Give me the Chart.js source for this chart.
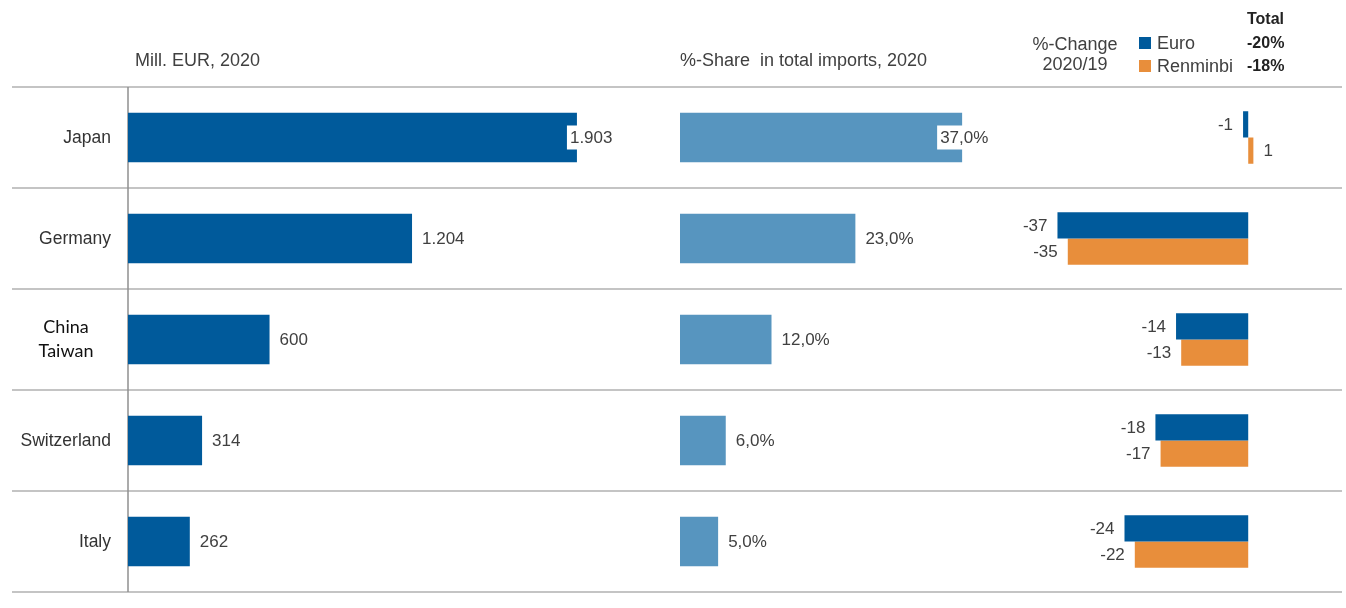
<!DOCTYPE html>
<html>
<head>
<meta charset="utf-8">
<script src="https://cdn.jsdelivr.net/npm/chart.js"></script>
<style>
  body { margin: 0; background: #fff; }
  #wrap { position: relative; width: 1346px; height: 608px; font-family: "Liberation Sans", Arial, sans-serif; color: #404040; }
  #wrap canvas { position: absolute; left: 0; top: 0; }
  .t { position: absolute; white-space: nowrap; font-size: 18px; line-height: 20px; }
  .c { text-align: center; }
  .b { font-weight: bold; font-size: 16px; color: #222; }
  .sq { position: absolute; width: 12px; height: 12px; }
</style>
</head>
<body>
<div id="wrap">
  <canvas id="chartEur" width="1346" height="608"></canvas>
  <canvas id="chartShare" width="1346" height="608"></canvas>
  <canvas id="chartChange" width="1346" height="608"></canvas>

  <div class="t" style="left:135px; top:50px;">Mill. EUR, 2020</div>
  <div class="t" style="left:680px; top:50px;">%-Share&nbsp; in total imports, 2020</div>
  <div class="t c" style="left:1020px; width:110px; top:34px;">%-Change</div>
  <div class="t c" style="left:1020px; width:110px; top:54px;">2020/19</div>
  <div id="legend"></div>
</div>

<script>
// values
const countries = ['Japan', 'Germany', ['China', 'Taiwan'], 'Switzerland', 'Italy'];
const importsMillEur = [1903, 1204, 600, 314, 262];
const sharePct = [37, 23, 12, 6, 5];
const changeEuro = [-1, -37, -14, -18, -24];
const changeRenminbi = [1, -35, -13, -17, -22];
const seriesNames = ['Euro', 'Renminbi'];
const totalChange = [-20, -18];

const DARK_BLUE = '#005a9b';
const LIGHT_BLUE = '#5795bf';
const ORANGE = '#e88e3b';
const FONT = '"Liberation Sans", Arial, sans-serif';

// 1903 -> 1.903
function fmtThousands(v) {
    if (Math.abs(v) < 1000) return String(v);
    return Math.floor(v / 1000) + '.' + String(v % 1000).padStart(3, '0');
}
function fmtPct(v) {
    return v.toFixed(1).replace('.', ',') + '%';
}

// labels at the end of each bar
function valueLabels(fmt, overlap) {
    return {
        id: 'valueLabels',
        afterDatasetsDraw(chart) {
            const ctx = chart.ctx;
            ctx.save();
            ctx.font = '17px ' + FONT;
            ctx.textBaseline = 'middle';
            chart.data.datasets.forEach((ds, di) => {
                const meta = chart.getDatasetMeta(di);
                const maxV = Math.max(...ds.data);
                meta.data.forEach((bar, i) => {
                    const v = ds.data[i];
                    const txt = fmt(v);
                    const w = ctx.measureText(txt).width;
                    let x;
                    if (v < 0) {
                        ctx.textAlign = 'right';
                        x = bar.x - 10;
                    } else if (overlap && v === maxV) {
                        // longest bar: label sits over the bar end on a white box
                        x = bar.x - overlap;
                        ctx.fillStyle = '#fff';
                        ctx.fillRect(x - 3, bar.y - 12, w + 5, 24);
                        ctx.textAlign = 'left';
                    } else {
                        ctx.textAlign = 'left';
                        x = bar.x + 10;
                    }
                    ctx.fillStyle = '#404040';
                    ctx.fillText(txt, x, bar.y + 1);
                });
            });
            ctx.restore();
        }
    };
}

// row separators across the page, axis line and country names
const rowFrame = {
    id: 'rowFrame',
    beforeDatasetsDraw(chart) {
        const ctx = chart.ctx;
        const y = chart.scales.y;
        const area = chart.chartArea;
        const n = chart.data.labels.length;
        const step = y.getPixelForValue(1) - y.getPixelForValue(0);
        ctx.save();
        ctx.strokeStyle = '#c4c4c4';
        ctx.lineWidth = 2;
        for (let k = 0; k <= n; k++) {
            const py = k < n ? y.getPixelForValue(k) - step / 2 : y.getPixelForValue(n - 1) + step / 2;
            ctx.beginPath();
            ctx.moveTo(12, py);
            ctx.lineTo(1342, py);
            ctx.stroke();
        }
        ctx.strokeStyle = '#8f8f8f';
        ctx.lineWidth = 1.5;
        ctx.beginPath();
        ctx.moveTo(area.left, area.top);
        ctx.lineTo(area.left, area.bottom);
        ctx.stroke();
        ctx.restore();
    },
    afterDraw(chart) {
        const ctx = chart.ctx;
        const y = chart.scales.y;
        const area = chart.chartArea;
        ctx.save();
        ctx.textBaseline = 'middle';
        chart.data.labels.forEach((lab, i) => {
            const py = y.getPixelForValue(i);
            if (Array.isArray(lab)) {
                ctx.font = '18px Lato, "Open Sans", sans-serif';
                ctx.fillStyle = '#111';
                ctx.textAlign = 'center';
                lab.forEach((line, j) => {
                    ctx.fillText(line, 66, py + (j - (lab.length - 1) / 2) * 24);
                });
            } else {
                ctx.font = '17.5px ' + FONT;
                ctx.fillStyle = '#333';
                ctx.textAlign = 'right';
                ctx.fillText(lab, area.left - 17, py + 1);
            }
        });
        ctx.restore();
    }
};

function barOptions(padding, xMin, xMax, catPct, barPct) {
    return {
        responsive: false,
        animation: false,
        indexAxis: 'y',
        layout: { padding: padding },
        datasets: { bar: { categoryPercentage: catPct, barPercentage: barPct } },
        plugins: { legend: { display: false }, tooltip: { enabled: false } },
        scales: {
            x: { display: false, min: xMin, max: xMax },
            y: { display: false }
        }
    };
}

new Chart(document.getElementById('chartEur'), {
    type: 'bar',
    data: {
        labels: countries,
        datasets: [{ label: 'Mill. EUR, 2020', data: importsMillEur, backgroundColor: DARK_BLUE }]
    },
    options: barOptions({ left: 128, right: 699, top: 87, bottom: 16 }, 0, 2200, 1, 0.49),
    plugins: [rowFrame, valueLabels(fmtThousands, 7)]
});

new Chart(document.getElementById('chartShare'), {
    type: 'bar',
    data: {
        labels: countries,
        datasets: [{ label: '%-Share in total imports, 2020', data: sharePct, backgroundColor: LIGHT_BLUE }]
    },
    options: barOptions({ left: 680, right: 361, top: 87, bottom: 16 }, 0, 40, 1, 0.49),
    plugins: [valueLabels(fmtPct, 22)]
});

new Chart(document.getElementById('chartChange'), {
    type: 'bar',
    data: {
        labels: countries,
        datasets: [
            { label: seriesNames[0], data: changeEuro, backgroundColor: DARK_BLUE },
            { label: seriesNames[1], data: changeRenminbi, backgroundColor: ORANGE }
        ]
    },
    options: barOptions({ left: 1042, right: 72, top: 87, bottom: 16 }, -40, 5, 0.52, 1),
    plugins: [valueLabels(String, 0)]
});

// legend with the totals column
const legend = document.getElementById('legend');
const colors = [DARK_BLUE, ORANGE];
legend.innerHTML = '<div class="t b" style="left:1247px; top:9px;">Total</div>' +
    seriesNames.map((name, i) => {
        const top = 33 + i * 23;
        return '<div class="sq" style="left:1139px; top:' + (top + 4) + 'px; background:' + colors[i] + ';"></div>' +
            '<div class="t" style="left:1157px; top:' + top + 'px;">' + name + '</div>' +
            '<div class="t b" style="left:1247px; top:' + top + 'px;">' + totalChange[i] + '%</div>';
    }).join('');
</script>
</body>
</html>
